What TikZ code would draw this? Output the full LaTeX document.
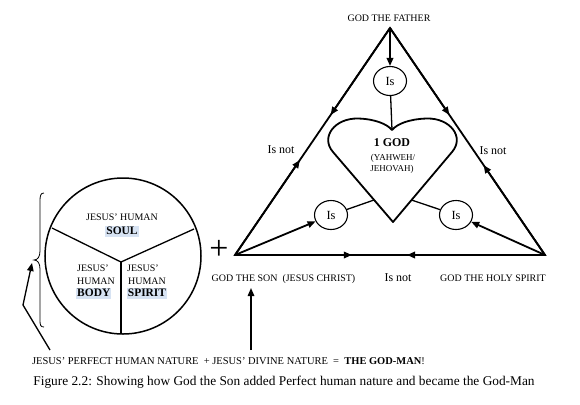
\documentclass[tikz,border=0pt]{standalone}
\usepackage{fontspec}
\setmainfont{Liberation Serif}
\usetikzlibrary{arrows.meta,calc,shapes.geometric}
\definecolor{hlblue}{HTML}{D7E3F3}
\begin{document}
\begin{tikzpicture}[x=1bp,y=-1bp,
  tri/.style={line width=1.8bp},
  thinline/.style={line width=1.3bp},
  tipA/.style={-{Triangle[length=8bp,width=6.5bp]}},
  isnode/.style={draw,ellipse,line width=1.1bp,minimum width=33bp,minimum height=29bp,inner sep=0pt,font=\fontsize{12.5}{12.5}\selectfont},
  lbl/.style={inner sep=0pt,font=\fontsize{10}{10}\selectfont,text height=0.66em,text depth=0pt},
  smalllbl/.style={inner sep=0pt,font=\fontsize{9}{9}\selectfont,text height=0.66em,text depth=0pt},
  isnot/.style={inner sep=0pt,font=\fontsize{12}{12}\selectfont,text height=0.66em,text depth=0pt},
  partlbl/.style={inner sep=0pt,font=\fontsize{10}{10}\selectfont,text height=0.66em,text depth=0pt},
  hlbox/.style={fill=hlblue,inner xsep=1bp,inner ysep=0.5bp,font=\fontsize{11.5}{12}\selectfont\bfseries,text height=8bp,text depth=2bp}
]
\useasboundingbox (0,0) rectangle (580,404);
\fill[white] (0,0) rectangle (580,404);

% ---------- Trinity triangle ----------
\coordinate (F) at (390,28);
\coordinate (S) at (235,255);
\coordinate (H) at (545,255);
\draw[tri,line join=miter] (F) -- (S) -- (H) -- cycle;

\draw[tri,tipA] (F) -- ($(F)!0.383!(S)$);
\draw[tri,tipA] (S) -- ($(S)!0.418!(F)$);
\draw[tri,tipA] (F) -- ($(F)!0.383!(H)$);
\draw[tri,tipA] (H) -- ($(H)!0.396!(F)$);
\draw[tri,tipA] (S) -- ($(S)!0.377!(H)$);
\draw[tri,tipA] (H) -- ($(H)!0.445!(S)$);

\node[lbl] (father) at (389,18) {GOD THE FATHER};
\node[lbl] (son) at (283.5,278) {GOD THE SON\ \ (JESUS CHRIST)};
\node[lbl] (spirit) at (493,278) {GOD THE HOLY SPIRIT};
\node[isnot] (isnotL) at (281,150) {Is not};
\node[isnot] (isnotR) at (493,151) {Is not};
\node[isnot] (isnotB) at (398,278) {Is not};

% heart
\coordinate (htip) at (393,222);
\coordinate (hdip) at (392,130);
\coordinate (hl) at (374,200);
\coordinate (hr) at (411.5,200);
\draw[tri,line join=round] (htip) -- (333,152) .. controls (320,137) and (335,118) .. (358,118.5)
  .. controls (375,119) and (387,124) .. (hdip)
  .. controls (397,124) and (409,119) .. (427,118.5)
  .. controls (450,118) and (465,137) .. (452,152) -- cycle;
\node[inner sep=0pt,font=\fontsize{12}{12}\selectfont\bfseries,text height=0.66em,text depth=0pt] (god) at (392,143) {1 GOD};
\node[smalllbl] (yah) at (393,157) {(YAHWEH/};
\node[smalllbl] (jeh) at (392,168) {JEHOVAH)};

% Is circles
\node[isnode] (i1) at (390,81) {Is};
\node[isnode] (i2) at (331,215) {Is};
\node[isnode] (i3) at (456,215) {Is};
\draw[tri,tipA] (F) -- (i1);
\draw[thinline] (i1) -- (hdip);
\draw[thinline] (hl) -- (i2);
\draw[thinline] (hr) -- (i3);
\draw[tri,tipA] (S) -- (i2);
\draw[tri,tipA] (H) -- (i3);

% plus
\node[inner sep=0pt,font=\fontsize{34}{34}\selectfont] (plus) at (219,250) {+};

% ---------- Human nature circle ----------
\node[draw,circle,line width=1.5bp,minimum size=156bp,inner sep=0pt] (hc) at (123,256) {};
\coordinate (jn) at (121,262);
\coordinate (ja) at (52,228);
\coordinate (jb) at (194,229);
\coordinate (jc) at (121,334);
\draw[thinline] (ja) -- (jn) -- (jb);
\draw[thinline] (jn) -- (jc);

\node[partlbl] (soul1) at (122,217) {JESUS’ HUMAN};
\node[hlbox] (soul2) at (122,231) {SOUL};
\node[partlbl,anchor=west] (body1) at (77,268) {JESUS’};
\node[partlbl,anchor=west] (body2) at (77,281) {HUMAN};
\node[hlbox,anchor=west] (body3) at (76,293) {BODY};
\node[partlbl] (spir1) at (143,268) {JESUS’};
\node[partlbl] (spir2) at (147,281) {HUMAN};
\node[hlbox] (spir3) at (147,293) {SPIRIT};

% brace
\draw[line width=0.8bp] (44,193) .. controls (40.5,193) and (40,196) .. (40,201) -- (40,251)
  .. controls (40,257) and (37.5,260) .. (34,260)
  .. controls (37.5,260) and (40,263) .. (40,269) -- (40,320)
  .. controls (40,325) and (40.5,327) .. (44,327);

% bottom statement and arrows
\node[inner sep=0pt,font=\fontsize{10.5}{10.5}\selectfont,text height=0.66em,text depth=0pt] (stmt) at (228.5,361) {JESUS’ PERFECT HUMAN NATURE\ \ + JESUS’ DIVINE NATURE\ \ =\ \ \textbf{THE GOD-MAN}!};
\coordinate (a1) at (50,350);
\coordinate (a2) at (23,305);
\coordinate (a3) at (32,263);
\draw[line width=1.3bp,tipA] (a1) -- (a2) -- (a3);
\coordinate (v1) at (251,350);
\coordinate (v2) at (251,288);
\draw[line width=1.5bp,tipA] (v1) -- (v2);

% caption
\node[inner sep=0pt,font=\fontsize{13.4}{14}\selectfont,text height=0.66em,text depth=0pt] (cap) at (284,382)
  {Figure 2.2: Showing how God the Son added Perfect human nature and became the God-Man};
\end{tikzpicture}
\end{document}
